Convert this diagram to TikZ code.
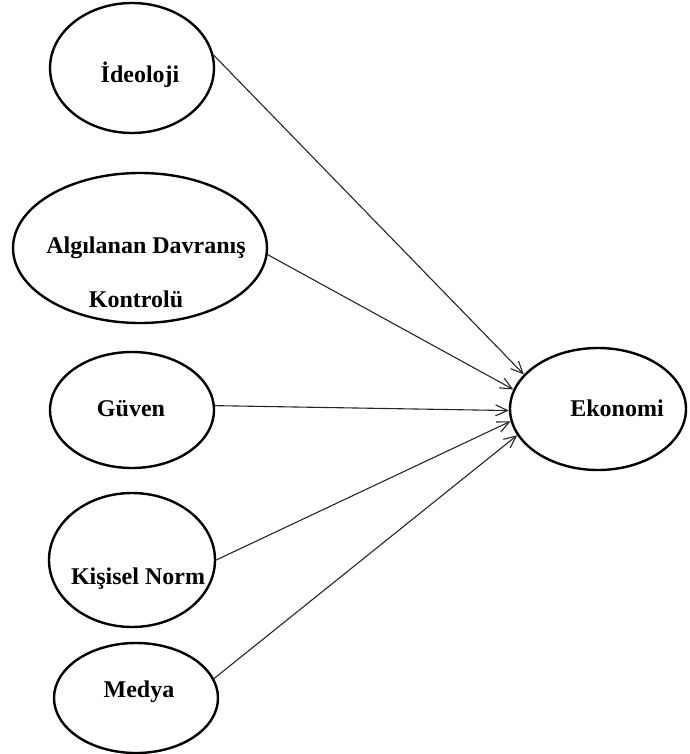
\documentclass[tikz,border=0pt]{standalone}
\usepackage{fontspec}
\setmainfont{Liberation Serif}
\usetikzlibrary{shapes.geometric,arrows.meta}
\begin{document}
\begin{tikzpicture}[x=1pt,y=-1pt,
  construct/.style={draw=black, line width=2.4pt, ellipse, inner sep=0pt},
  lbl/.style={anchor=base, inner sep=0pt, font=\bfseries\fontsize{24}{28}\selectfont},
  link/.style={draw=black!85, line width=1.1pt,
    -{Straight Barb[length=12pt,width=11pt,line width=1.1pt]}}]
\useasboundingbox (0,0) rectangle (689,754);

% factor ellipses
\node[construct, minimum width=164pt, minimum height=130pt] (ideo) at (132,68) {};
\node[construct, minimum width=254pt, minimum height=150pt] (alg)  at (140,248) {};
\node[construct, minimum width=164pt, minimum height=116pt] (guv)  at (132,410) {};
\node[construct, minimum width=166pt, minimum height=134pt] (kis)  at (132,560) {};
\node[construct, minimum width=164pt, minimum height=110pt] (med)  at (136,698) {};
\node[construct, minimum width=176pt, minimum height=122pt] (eko)  at (598,409) {};

% labels
\node[lbl] (tideo) at (140,83)  {İdeoloji};
\node[lbl] (talg1) at (146,253) {Algılanan Davranış};
\node[lbl] (talg2) at (136,307) {Kontrolü};
\node[lbl] (tguv)  at (131,416) {Güven};
\node[lbl] (tkis)  at (138,584) {Kişisel Norm};
\node[lbl] (tmed)  at (139,697) {Medya};
\node[lbl] (teko)  at (617,416) {Ekonomi};

% paths into Ekonomi
\draw[link] (ideo.9)  -- (eko.155);
\draw[link] (alg.-3)  -- (eko.167);
\draw[link] (guv.3)   -- (eko.181);
\draw[link] (kis.0)   -- (eko.188);
\draw[link] (med.14)  -- (eko.198);
\end{tikzpicture}
\end{document}
